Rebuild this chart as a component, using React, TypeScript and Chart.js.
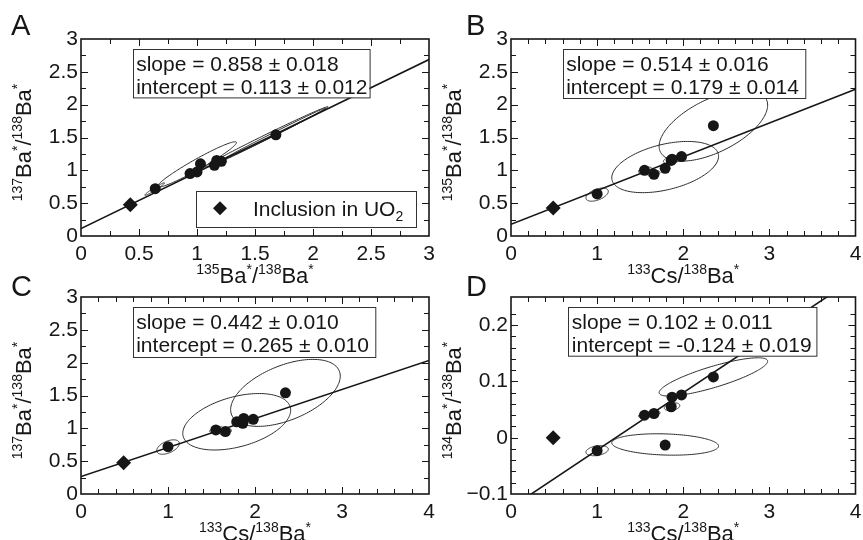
import React, { useEffect, useRef } from 'react';
import { Chart, registerables } from 'chart.js';

Chart.register(...registerables);

const W = 863;
const H = 540;
const FONT = "'Liberation Sans', Arial, Helvetica, sans-serif";
const INK = '#161616';

// ---------------- data ----------------
// measured samples (filled circles)
const cs133Ba138 = [1.0, 1.55, 1.66, 1.79, 1.86, 1.87, 1.98, 2.35];
const ba135Ba138 = [0.64, 1.0, 0.94, 1.03, 1.15, 1.17, 1.21, 1.68];
const ba137Ba138 = [0.72, 0.975, 0.95, 1.1, 1.076, 1.15, 1.137, 1.54];
const ba134Ba138 = [-0.023, 0.04, 0.043, -0.013, 0.055, 0.072, 0.076, 0.108];

// inclusion in UO2 (diamond)
const inclusionCs = [0.49];
const inclusion135 = [0.425];
const inclusion137 = [0.475];
const inclusion134 = [0.0];

// regression fits: [slope, slope error, intercept, intercept error]
const fitA = [0.858, 0.018, 0.113, 0.012];
const fitB = [0.514, 0.016, 0.179, 0.014];
const fitC = [0.442, 0.01, 0.265, 0.01];
const fitD = [0.102, 0.011, -0.124, 0.019];

// error ellipses: [centre x, centre y, sigma x, sigma y, correlation]
const ellipsesA = [
  [0.635, 0.715, 0.085, 0.095, 0.97],
  [1.0, 1.09, 0.34, 0.345, 0.965],
  [1.6, 1.51, 0.53, 0.46, 0.996],
  [1.64, 1.53, 0.47, 0.42, 0.998],
  [1.19, 1.12, 0.06, 0.06, 0.95],
];
const ellipsesB = [
  [1.0, 0.63, 0.13, 0.1, 0.5],
  [1.56, 1.0, 0.08, 0.05, 0.4],
  [1.66, 0.95, 0.07, 0.045, 0.4],
  [1.79, 1.05, 0.62, 0.39, 0.42],
  [1.87, 1.16, 0.1, 0.06, 0.4],
  [2.35, 1.68, 0.63, 0.54, 0.58],
];
const ellipsesC = [
  [1.0, 0.715, 0.13, 0.11, 0.5],
  [1.56, 0.975, 0.08, 0.05, 0.4],
  [1.66, 0.95, 0.07, 0.045, 0.4],
  [1.79, 1.1, 0.62, 0.43, 0.41],
  [1.87, 1.12, 0.1, 0.06, 0.4],
  [2.35, 1.54, 0.63, 0.51, 0.5],
];
const ellipsesD = [
  [1.0, -0.023, 0.13, 0.009, 0.3],
  [1.56, 0.04, 0.08, 0.005, 0.3],
  [1.66, 0.043, 0.07, 0.005, 0.3],
  [1.79, -0.012, 0.62, 0.019, -0.15],
  [1.87, 0.055, 0.09, 0.007, 0.3],
  [2.35, 0.108, 0.63, 0.034, 0.82],
];

// axis tick labels (major ticks)
const ticks0to3Values = [0, 0.5, 1, 1.5, 2, 2.5, 3];
const ticks0to3Labels = ['0', '0.5', '1', '1.5', '2', '2.5', '3'];
const ticks0to4Values = [0, 1, 2, 3, 4];
const ticks0to4Labels = ['0', '1', '2', '3', '4'];
const ticksDValues = [-0.1, 0, 0.1, 0.2];
const ticksDLabels = ['\u22120.1', '0', '0.1', '0.2'];

const panelLetters = ['A', 'B', 'C', 'D'];
const legendLabel = 'Inclusion in UO';
const legendSub = '2';

// ---------------- helpers ----------------
type Seg = { t: string; sup?: boolean; sub?: boolean };
const titleBa135: Seg[] = [{ t: '135', sup: true }, { t: 'Ba' }, { t: '*', sup: true }, { t: '/' }, { t: '138', sup: true }, { t: 'Ba' }, { t: '*', sup: true }];
const titleBa137: Seg[] = [{ t: '137', sup: true }, { t: 'Ba' }, { t: '*', sup: true }, { t: '/' }, { t: '138', sup: true }, { t: 'Ba' }, { t: '*', sup: true }];
const titleBa134: Seg[] = [{ t: '134', sup: true }, { t: 'Ba' }, { t: '*', sup: true }, { t: '/' }, { t: '138', sup: true }, { t: 'Ba' }, { t: '*', sup: true }];
const titleCs: Seg[] = [{ t: '133', sup: true }, { t: 'Cs' }, { t: '/' }, { t: '138', sup: true }, { t: 'Ba' }, { t: '*', sup: true }];

function drawRich(ctx: CanvasRenderingContext2D, segs: Seg[], x: number, y: number, size: number, subSize: number) {
  const fontOf = (s: Seg) => `${s.sup || s.sub ? subSize : size}px ${FONT}`;
  const widths = segs.map((s) => {
    ctx.font = fontOf(s);
    return ctx.measureText(s.t).width;
  });
  const total = widths.reduce((a, b) => a + b, 0);
  let cx = x - total / 2;
  ctx.textAlign = 'left';
  ctx.textBaseline = 'alphabetic';
  segs.forEach((s, i) => {
    ctx.font = fontOf(s);
    const dy = s.sup ? -9 : s.sub ? 5 : 0;
    ctx.fillText(s.t, cx, y + dy);
    cx += widths[i];
  });
}

function fmtFit(f: number[]) {
  return [
    `slope = ${f[0].toFixed(3)} \u00b1 ${f[1].toFixed(3)}`,
    `intercept = ${f[2].toFixed(3)} \u00b1 ${f[3].toFixed(3)}`,
  ];
}

type Axis = { min: number; max: number; step: number; majors: number[]; labels: string[] };
type Panel = {
  area: { left: number; top: number; right: number; bottom: number };
  letter: string;
  letterPos: [number, number];
  xAxis: Axis;
  yAxis: Axis;
  xs: number[];
  ys: number[];
  dx: number[];
  dy: number[];
  fit: number[];
  ellipses: number[][];
  xTitle: Seg[];
  yTitle: Seg[];
  box: { dx: number; dy: number; w: number; h: number };
  legend: boolean;
};

const axis03: Axis = { min: 0, max: 3, step: 0.25, majors: ticks0to3Values, labels: ticks0to3Labels };
const axis04: Axis = { min: 0, max: 4, step: 0.2, majors: ticks0to4Values, labels: ticks0to4Labels };
const axisD: Axis = { min: -0.1, max: 0.25, step: 0.02, majors: ticksDValues, labels: ticksDLabels };

const panels: Panel[] = [
  {
    area: { left: 81, top: 39, right: 429, bottom: 236 },
    letter: panelLetters[0], letterPos: [11, 35],
    xAxis: axis03, yAxis: axis03,
    xs: ba135Ba138, ys: ba137Ba138, dx: inclusion135, dy: inclusion137,
    fit: fitA, ellipses: ellipsesA, xTitle: titleBa135, yTitle: titleBa137,
    box: { dx: 51.7, dy: 10.3, w: 236.6, h: 48.4 }, legend: true,
  },
  {
    area: { left: 511, top: 39, right: 859, bottom: 236 },
    letter: panelLetters[1], letterPos: [466, 35],
    xAxis: axis04, yAxis: axis03,
    xs: cs133Ba138, ys: ba135Ba138, dx: inclusionCs, dy: inclusion135,
    fit: fitB, ellipses: ellipsesB, xTitle: titleCs, yTitle: titleBa135,
    box: { dx: 51.7, dy: 10.3, w: 242.3, h: 49 }, legend: false,
  },
  {
    area: { left: 81, top: 297, right: 429, bottom: 494 },
    letter: panelLetters[2], letterPos: [11, 296],
    xAxis: axis04, yAxis: axis03,
    xs: cs133Ba138, ys: ba137Ba138, dx: inclusionCs, dy: inclusion137,
    fit: fitC, ellipses: ellipsesC, xTitle: titleCs, yTitle: titleBa137,
    box: { dx: 51.7, dy: 10.3, w: 242.3, h: 50 }, legend: false,
  },
  {
    area: { left: 511, top: 297, right: 859, bottom: 494 },
    letter: panelLetters[3], letterPos: [466, 296],
    xAxis: axis04, yAxis: axisD,
    xs: cs133Ba138, ys: ba134Ba138, dx: inclusionCs, dy: inclusion134,
    fit: fitD, ellipses: ellipsesD, xTitle: titleCs, yTitle: titleBa134,
    box: { dx: 57.3, dy: 10.3, w: 248.4, h: 48.7 }, legend: false,
  },
];

const Y_W = 60;
const X_H = 40;

function labelFor(ax: Axis, v: number) {
  for (let i = 0; i < ax.majors.length; i++) {
    if (Math.abs(ax.majors[i] - v) < 1e-6) return ax.labels[i];
  }
  return '';
}

function panelPlugin(p: Panel) {
  return {
    id: 'panelDecor',
    beforeDatasetsDraw(chart: any) {
      const ctx: CanvasRenderingContext2D = chart.ctx;
      const xs = chart.scales.x;
      const ys = chart.scales.y;
      const a = chart.chartArea;
      ctx.save();
      ctx.beginPath();
      ctx.rect(a.left, a.top, a.right - a.left, a.bottom - a.top);
      ctx.clip();
      ctx.strokeStyle = '#2a2a2a';
      ctx.lineWidth = 1;
      p.ellipses.forEach((e) => {
        const [cx, cy, sx, sy, rho] = e;
        const r2 = Math.sqrt(1 - rho * rho);
        ctx.beginPath();
        const n = 160;
        for (let i = 0; i <= n; i++) {
          const t = (i / n) * Math.PI * 2;
          const x = cx + sx * Math.cos(t);
          const y = cy + sy * (rho * Math.cos(t) + r2 * Math.sin(t));
          const px = xs.getPixelForValue(x);
          const py = ys.getPixelForValue(y);
          if (i === 0) ctx.moveTo(px, py);
          else ctx.lineTo(px, py);
        }
        ctx.closePath();
        ctx.stroke();
      });
      ctx.restore();
    },
    afterDatasetsDraw(chart: any) {
      const ctx: CanvasRenderingContext2D = chart.ctx;
      const xs = chart.scales.x;
      const ys = chart.scales.y;
      const a = chart.chartArea;
      ctx.save();
      // ticks on all four sides (inward)
      ctx.strokeStyle = INK;
      ctx.lineWidth = 1;
      xs.ticks.forEach((t: any) => {
        if (Math.abs(t.value - p.xAxis.min) < 1e-6 || Math.abs(t.value - p.xAxis.max) < 1e-6) return;
        const px = Math.round(xs.getPixelForValue(t.value)) + 0.5;
        const len = labelFor(p.xAxis, t.value) ? 7 : 5;
        ctx.beginPath();
        ctx.moveTo(px, a.bottom);
        ctx.lineTo(px, a.bottom - len);
        ctx.moveTo(px, a.top);
        ctx.lineTo(px, a.top + len);
        ctx.stroke();
      });
      ys.ticks.forEach((t: any) => {
        if (Math.abs(t.value - p.yAxis.min) < 1e-6 || Math.abs(t.value - p.yAxis.max) < 1e-6) return;
        const py = Math.round(ys.getPixelForValue(t.value)) + 0.5;
        const len = labelFor(p.yAxis, t.value) ? 7 : 5;
        ctx.beginPath();
        ctx.moveTo(a.left, py);
        ctx.lineTo(a.left + len, py);
        ctx.moveTo(a.right, py);
        ctx.lineTo(a.right - len, py);
        ctx.stroke();
      });
      // frame
      ctx.lineWidth = 1.6;
      ctx.strokeRect(a.left, a.top, a.right - a.left, a.bottom - a.top);

      // fit text box
      const bx = a.left + p.box.dx;
      const by = a.top + p.box.dy;
      ctx.fillStyle = '#ffffff';
      ctx.fillRect(bx, by, p.box.w, p.box.h);
      ctx.lineWidth = 1;
      ctx.strokeStyle = '#333';
      ctx.strokeRect(Math.round(bx) + 0.5, Math.round(by) + 0.5, p.box.w, p.box.h);
      ctx.fillStyle = INK;
      ctx.font = `21px ${FONT}`;
      ctx.textAlign = 'left';
      ctx.textBaseline = 'alphabetic';
      const lines = fmtFit(p.fit);
      ctx.fillText(lines[0], bx + 3.5, by + 22);
      ctx.fillText(lines[1], bx + 3.5, by + 45);

      // legend (panel A)
      if (p.legend) {
        const lx = a.left + 115;
        const ly = a.top + 151.7;
        ctx.fillStyle = '#ffffff';
        ctx.fillRect(lx, ly, 220, 36);
        ctx.strokeStyle = '#333';
        ctx.strokeRect(Math.round(lx) + 0.5, Math.round(ly) + 0.5, 220, 36);
        const dxp = a.left + 139;
        const dyp = a.top + 169.3;
        const r = 7;
        ctx.fillStyle = INK;
        ctx.beginPath();
        ctx.moveTo(dxp - r, dyp);
        ctx.lineTo(dxp, dyp - r);
        ctx.lineTo(dxp + r, dyp);
        ctx.lineTo(dxp, dyp + r);
        ctx.closePath();
        ctx.fill();
        ctx.font = `21px ${FONT}`;
        ctx.fillText(legendLabel, a.left + 172, a.top + 176.5);
        const w = ctx.measureText(legendLabel).width;
        ctx.font = `14px ${FONT}`;
        ctx.fillText(legendSub, a.left + 172 + w, a.top + 181.5);
      }
      ctx.restore();
    },
    afterDraw(chart: any) {
      const ctx: CanvasRenderingContext2D = chart.ctx;
      const a = chart.chartArea;
      ctx.save();
      ctx.fillStyle = INK;
      // x title
      drawRich(ctx, p.xTitle, (a.left + a.right) / 2, a.bottom + 47, 22, 14);
      // y title (rotated)
      ctx.translate(a.left - 50, (a.top + a.bottom) / 2 + 5);
      ctx.rotate(-Math.PI / 2);
      drawRich(ctx, p.yTitle, 0, 0, 22, 14);
      ctx.restore();
      // panel letter
      ctx.save();
      ctx.fillStyle = INK;
      ctx.font = `29px ${FONT}`;
      ctx.textAlign = 'left';
      ctx.textBaseline = 'alphabetic';
      ctx.fillText(p.letter, p.letterPos[0], p.letterPos[1]);
      ctx.restore();
    },
  };
}

function buildConfig(p: Panel): any {
  const [slope, , intercept] = p.fit;
  const lineData = [p.xAxis.min, p.xAxis.max].map((x) => ({ x, y: intercept + slope * x }));
  const pad = {
    left: p.area.left - Y_W,
    top: p.area.top,
    right: W - p.area.right,
    bottom: H - p.area.bottom - X_H,
  };
  const axisOpts = (ax: Axis, isX: boolean) => ({
    type: 'linear',
    min: ax.min,
    max: ax.max,
    afterFit(scale: any) {
      if (isX) {
        scale.height = X_H;
        scale.paddingLeft = 0;
        scale.paddingRight = 0;
      } else {
        scale.width = Y_W;
        scale.paddingTop = 0;
        scale.paddingBottom = 0;
      }
    },
    grid: { display: false, drawTicks: false },
    border: { display: false },
    ticks: {
      stepSize: ax.step,
      autoSkip: false,
      maxRotation: 0,
      minRotation: 0,
      padding: isX ? 6 : 3,
      color: INK,
      font: { family: FONT, size: 21 },
      callback: (v: number) => labelFor(ax, v),
    },
  });
  return {
    type: 'scatter',
    data: {
      datasets: [
        {
          data: p.dx.map((x, i) => ({ x, y: p.dy[i] })),
          pointStyle: 'rectRot',
          pointRadius: 7.5,
          backgroundColor: INK,
          borderWidth: 0,
          order: 0,
        },
        {
          data: p.xs.map((x, i) => ({ x, y: p.ys[i] })),
          pointStyle: 'circle',
          pointRadius: 5.5,
          backgroundColor: INK,
          borderWidth: 0,
          order: 1,
        },
        {
          type: 'line',
          data: lineData,
          borderColor: INK,
          borderWidth: 1.6,
          pointRadius: 0,
          fill: false,
          order: 2,
        },
      ],
    },
    options: {
      responsive: false,
      animation: false,
      events: [],
      layout: { padding: pad },
      plugins: { legend: { display: false }, tooltip: { enabled: false } },
      scales: { x: axisOpts(p.xAxis, true), y: axisOpts(p.yAxis, false) },
    },
    plugins: [panelPlugin(p)],
  };
}

export default function App() {
  const r0 = useRef<HTMLCanvasElement>(null);
  const r1 = useRef<HTMLCanvasElement>(null);
  const r2 = useRef<HTMLCanvasElement>(null);
  const r3 = useRef<HTMLCanvasElement>(null);
  const refs = [r0, r1, r2, r3];

  useEffect(() => {
    const charts = panels.map((p, i) => new Chart(refs[i].current as HTMLCanvasElement, buildConfig(p)));
    return () => charts.forEach((c) => c.destroy());
  }, []);

  return (
    <div style={{ position: 'fixed', left: 0, top: 0, width: W, height: H, background: '#ffffff', overflow: 'hidden' }}>
      {refs.map((r, i) => (
        <canvas
          key={i}
          ref={r}
          width={W}
          height={H}
          style={{ position: 'absolute', left: 0, top: 0, width: W, height: H }}
        />
      ))}
    </div>
  );
}
